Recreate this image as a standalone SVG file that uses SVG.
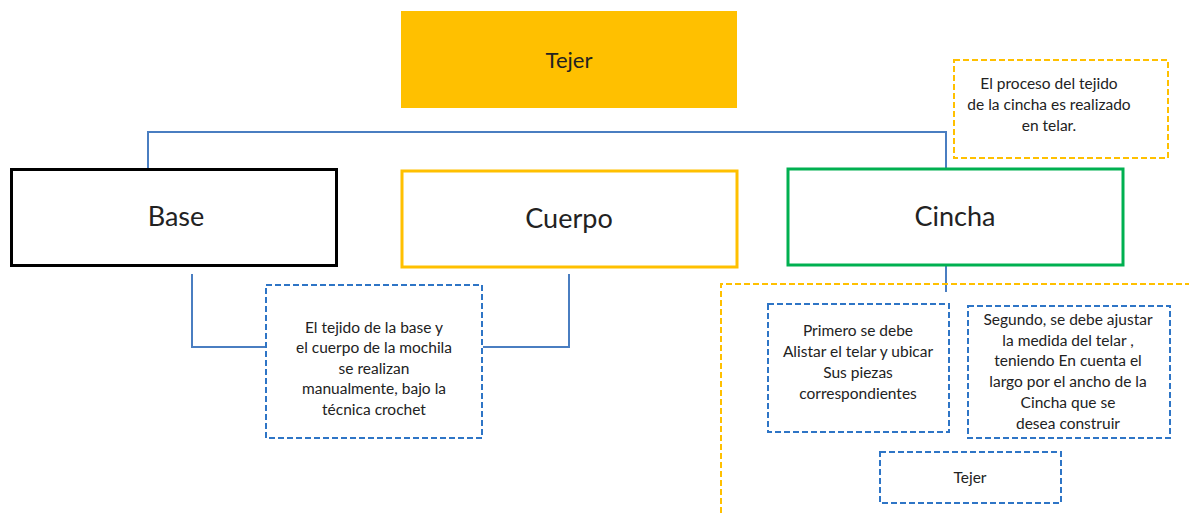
<svg xmlns="http://www.w3.org/2000/svg" width="1189" height="513" viewBox="0 0 1189 513">
<style>
text{font-family:Lato,"Liberation Sans",sans-serif;fill:#222;text-anchor:middle}
.big{font-size:27px}
.sm{font-size:15.5px}
.conn{stroke:#4A7EC1;stroke-width:2;fill:none}
.note{fill:#fff;stroke:#2E75C6;stroke-width:2;stroke-dasharray:6 3}
.onote{fill:none;stroke:#FFC000;stroke-width:2;stroke-dasharray:6 3}
</style>
<rect width="1189" height="513" fill="#fff"/>
<g id="connectors">
<polyline class="conn" points="148,168 148,132 946,132 946,168"/>
<polyline class="conn" points="192,274 192,347 265,347"/>
<polyline class="conn" points="569,274 569,347 483,347"/>
<line class="conn" x1="946" y1="266" x2="946" y2="292"/>
</g>
<g id="tejer-top">
<rect x="401" y="11" width="336" height="97" fill="#FFC000"/>
<text x="569" y="68" style="font-size:22px">Tejer</text>
</g>
<g id="base">
<rect x="11.5" y="169.5" width="325" height="96" fill="#fff" stroke="#000" stroke-width="3"/>
<text class="big" x="176" y="226">Base</text>
</g>
<g id="cuerpo">
<rect x="402" y="171" width="335" height="96" fill="#fff" stroke="#FFC000" stroke-width="3"/>
<text class="big" x="569" y="228">Cuerpo</text>
</g>
<g id="cincha">
<rect x="788" y="169" width="335" height="96" fill="#fff" stroke="#00B050" stroke-width="3"/>
<text class="big" x="955" y="226">Cincha</text>
</g>
<g id="nota-telar">
<rect class="onote" x="954" y="60" width="214" height="98" fill="#fff"/>
<text class="sm" x="1049" y="89">El proceso del  tejido</text>
<text class="sm" x="1049" y="110">de la cincha es realizado</text>
<text class="sm" x="1049" y="131">en telar.</text>
</g>
<g id="nota-crochet">
<rect class="note" x="266" y="285" width="216" height="153"/>
<text class="sm" x="374" y="333">El tejido de la base y</text>
<text class="sm" x="374" y="353">el cuerpo de la mochila</text>
<text class="sm" x="374" y="374">se realizan</text>
<text class="sm" x="374" y="394">manualmente, bajo la</text>
<text class="sm" x="374" y="415">técnica crochet</text>
</g>
<g id="proceso-telar">
<polyline class="onote" points="721,513 721,284 1189,284"/>
</g>
<g id="primero">
<rect class="note" x="768" y="304" width="181" height="128"/>
<text class="sm" x="858" y="336">Primero se debe</text>
<text class="sm" x="858" y="357">Alistar el telar  y ubicar</text>
<text class="sm" x="858" y="378">Sus piezas</text>
<text class="sm" x="858" y="399">correspondientes</text>
</g>
<g id="segundo">
<rect class="note" x="968" y="306" width="202" height="132"/>
<text class="sm" x="1068" y="325">Segundo, se debe  ajustar</text>
<text class="sm" x="1068" y="346">la medida  del telar ,</text>
<text class="sm" x="1068" y="366">teniendo  En cuenta el</text>
<text class="sm" x="1068" y="387">largo por  el ancho de la</text>
<text class="sm" x="1068" y="408">Cincha  que se</text>
<text class="sm" x="1068" y="429">desea construir</text>
</g>
<g id="tejer-paso">
<rect class="note" x="880" y="452" width="181" height="51"/>
<text class="sm" x="970" y="483">Tejer</text>
</g>
</svg>
